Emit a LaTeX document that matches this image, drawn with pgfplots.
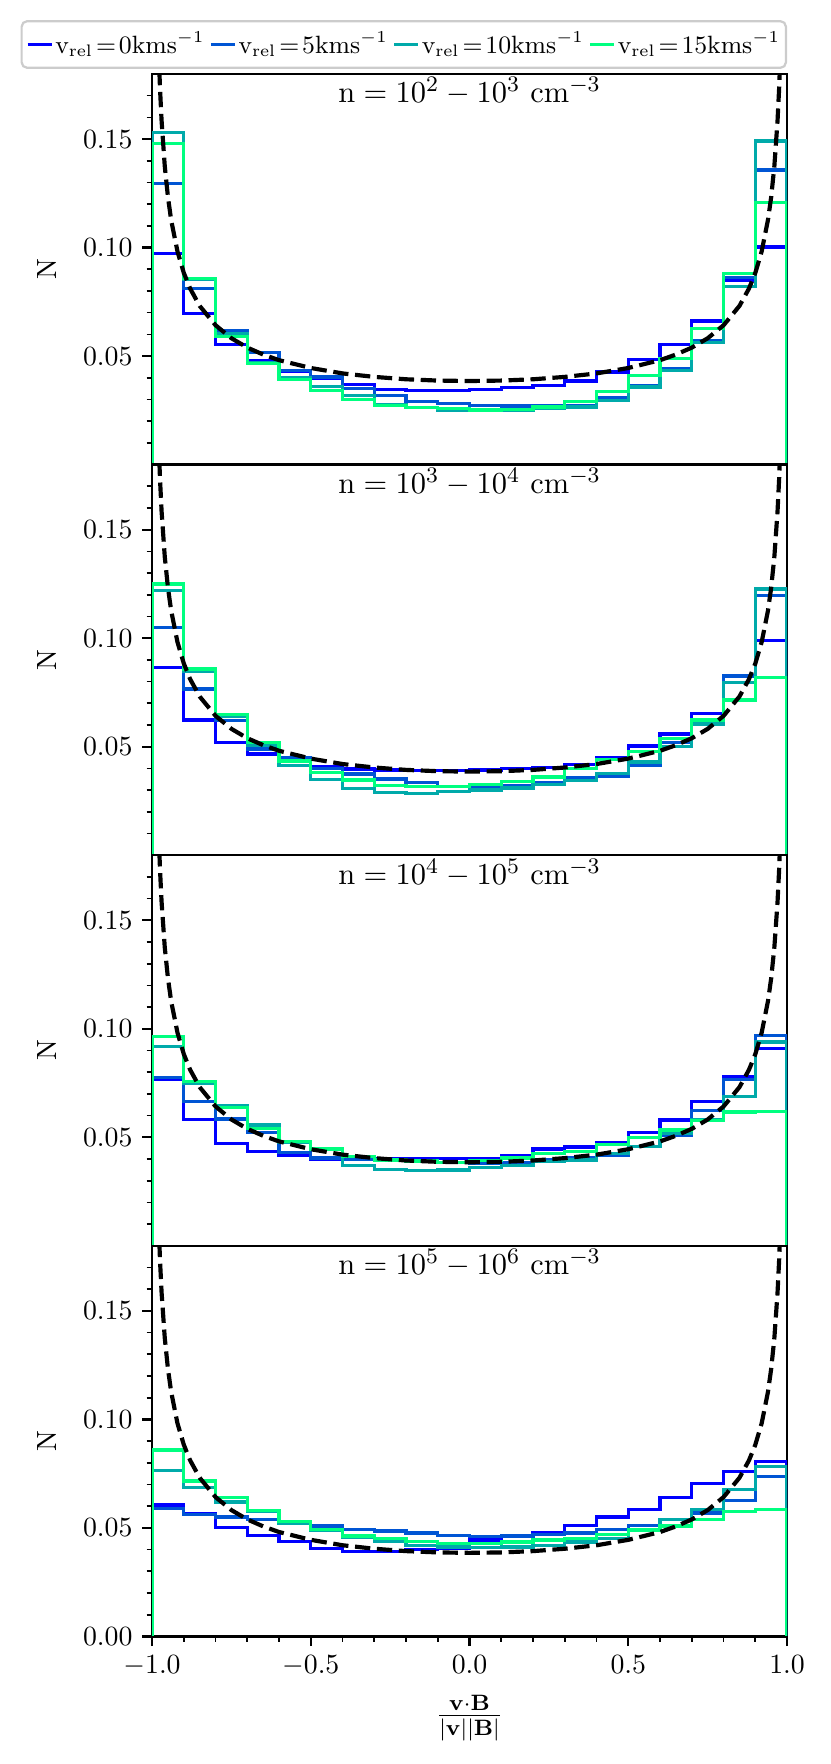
\documentclass[border=0pt]{standalone}
\usepackage{pgfplots}
\pgfplotsset{compat=1.18}
\usepackage{pgfplotstable}

\definecolor{cA}{RGB}{0,0,255}
\definecolor{cB}{RGB}{0,85,212}
\definecolor{cC}{RGB}{0,170,170}
\definecolor{cD}{RGB}{0,255,128}
\definecolor{legedge}{RGB}{204,204,204}

% columns: bin left edge, v=0, v=5, v=10, v=15 (step outlines closed down to zero at both ends)
\pgfplotstableread{
x     a      b      c      d
-1.0  0      0      0      0
-1.0  .0973  .1296  .1530  .1480
-0.9  .0696  .0811  .0855  .0857
-0.8  .0554  .0619  .0605  .0591
-0.7  .0480  .0516  .0470  .0465
-0.6  .0430  .0434  .0400  .0391
-0.5  .0396  .0403  .0360  .0342
-0.4  .0369  .0349  .0318  .0299
-0.3  .0345  .0319  .0275  .0272
-0.2  .0342  .0292  .0262  .0262
-0.1  .0342  .0280  .0250  .0257
0.0   .0345  .0272  .0248  .0252
0.1   .0354  .0270  .0249  .0255
0.2   .0365  .0272  .0257  .0265
0.3   .0385  .0272  .0265  .0290
0.4   .0426  .0310  .0295  .0336
0.5   .0485  .0365  .0357  .0410
0.6   .0554  .0440  .0434  .0490
0.7   .0662  .0572  .0562  .0626
0.8   .0850  .0862  .0820  .0880
0.9   .1003  .1357  .1491  .1207
1.0   .1003  .1357  .1491  .1207
1.0   0      0      0      0
}\tabA

\pgfplotstableread{
x     a      b      c      d
-1.0  0      0      0      0
-1.0  .0866  .1049  .1220  .1249
-0.9  .0623  .0766  .0846  .0858
-0.8  .0518  .0620  .0640  .0649
-0.7  .0466  .0490  .0505  .0518
-0.6  .0440  .0451  .0412  .0434
-0.5  .0408  .0400  .0349  .0382
-0.4  .0397  .0374  .0308  .0346
-0.3  .0392  .0351  .0289  .0320
-0.2  .0389  .0334  .0285  .0318
-0.1  .0389  .0318  .0292  .0318
0.0   .0392  .0311  .0300  .0325
0.1   .0398  .0320  .0310  .0340
0.2   .0405  .0334  .0325  .0360
0.3   .0418  .0358  .0345  .0400
0.4   .0448  .0362  .0377  .0440
0.5   .0503  .0412  .0430  .0477
0.6   .0558  .0520  .0500  .0538
0.7   .0654  .0615  .0605  .0623
0.8   .0825  .0826  .0795  .0715
0.9   .0989  .1197  .1226  .0820
1.0   .0989  .1197  .1226  .0820
1.0   0      0      0      0
}\tabB

\pgfplotstableread{
x     a      b      c      d
-1.0  0      0      0      0
-1.0  .0768  .0776  .0919  .0965
-0.9  .0583  .0665  .0750  .0757
-0.8  .0472  .0585  .0645  .0637
-0.7  .0434  .0523  .0557  .0539
-0.6  .0416  .0430  .0475  .0480
-0.5  .0399  .0405  .0446  .0446
-0.4  .0403  .0400  .0369  .0411
-0.3  .0403  .0396  .0352  .0396
-0.2  .0400  .0392  .0346  .0390
-0.1  .0403  .0385  .0349  .0385
0.0   .0403  .0380  .0360  .0392
0.1   .0416  .0385  .0369  .0405
0.2   .0446  .0395  .0388  .0426
0.3   .0456  .0405  .0395  .0434
0.4   .0477  .0419  .0426  .0468
0.5   .0523  .0457  .0459  .0499
0.6   .0580  .0510  .0520  .0534
0.7   .0665  .0623  .0580  .0576
0.8   .0780  .0765  .0688  .0616
0.9   .0908  .0970  .0939  .0619
1.0   .0908  .0970  .0939  .0619
1.0   0      0      0      0
}\tabC

\pgfplotstableread{
x     a      b      c      d
-1.0  0      0      0      0
-1.0  .0605  .0589  .0763  .0859
-0.9  .0565  .0563  .0685  .0716
-0.8  .0502  .0551  .0620  .0639
-0.7  .0466  .0540  .0575  .0579
-0.6  .0436  .0531  .0520  .0528
-0.5  .0405  .0508  .0490  .0494
-0.4  .0392  .0492  .0456  .0463
-0.3  .0392  .0486  .0436  .0451
-0.2  .0400  .0477  .0420  .0436
-0.1  .0405  .0466  .0412  .0428
0.0   .0445  .0459  .0410  .0428
0.1   .0460  .0462  .0412  .0435
0.2   .0477  .0470  .0420  .0445
0.3   .0512  .0477  .0435  .0452
0.4   .0551  .0492  .0450  .0470
0.5   .0585  .0512  .0490  .0490
0.6   .0640  .0538  .0540  .0508
0.7   .0705  .0569  .0585  .0539
0.8   .0759  .0625  .0677  .0575
0.9   .0805  .0736  .0782  .0585
1.0   .0805  .0736  .0782  .0585
1.0   0      0      0      0
}\tabD

% dashed reference curve
\pgfplotstableread{
x      y
-0.99  .2729
-0.985 .2231
-0.98  .1935
-0.975 .1733
-0.97  .1584
-0.96  .1375
-0.95  .1233
-0.94  .1128
-0.92  .0982
-0.90  .0883
-0.88  .0811
-0.85  .0731
-0.80  .0642
-0.75  .0582
-0.70  .0539
-0.65  .0507
-0.60  .0481
-0.50  .0445
-0.40  .0420
-0.30  .0404
-0.20  .0393
-0.10  .0387
0.00   .0385
0.10   .0387
0.20   .0393
0.30   .0404
0.40   .0420
0.50   .0445
0.60   .0481
0.65   .0507
0.70   .0539
0.75   .0582
0.80   .0642
0.85   .0731
0.88   .0811
0.90   .0883
0.92   .0982
0.94   .1128
0.95   .1233
0.96   .1375
0.97   .1584
0.975  .1733
0.98   .1935
0.985  .2231
0.99   .2729
}\tabT

\pgfplotsset{
  panel/.style={
    scale only axis, width=228.4pt, height=140.5pt,
    anchor=north west,
    xmin=-1, xmax=1, ymin=0, ymax=0.18,
    axis line style={line width=0.8pt},
    tick align=outside,
    xtick pos=left, ytick pos=left,
    major tick length=3.5pt, minor tick length=2pt,
    every major tick/.append style={line width=0.8pt, black},
    every minor tick/.append style={line width=0.6pt, black},
    ytick={0.05,0.10,0.15},
    minor ytick={0.01,0.02,0.03,0.04,0.06,0.07,0.08,0.09,0.11,0.12,0.13,0.14,0.16,0.17},
    scaled y ticks=false,
    yticklabel style={/pgf/number format/.cd, fixed, fixed zerofill, precision=2},
    xtick=\empty,
    every axis y label/.style={at={(rel axis cs:0,0.5)}, xshift=-34.2pt, rotate=90, anchor=base},
    ylabel={N},
    clip=true,
  },
  hist/.style={const plot, line width=1.2pt, mark=none, line join=miter},
  theory/.style={black, line width=1.5pt, dash pattern=on 5.5pt off 2.4pt, mark=none},
}

\newcommand{\paneltitle}[2]{\node[anchor=base, font=\fontsize{10.9}{13}\selectfont] at (rel axis cs:0.5,1) [yshift=-10.4pt] {$\mathrm{n}=10^{#1}-10^{#2}~\mathrm{cm}^{-3}$};}

\begin{document}
\begin{tikzpicture}
\useasboundingbox (-54.7pt,26.6pt) rectangle (244.2pt,-607.9pt);

\begin{axis}[panel, at={(0,0)},
  legend columns=4,
  legend image code/.code={\draw[#1, line width=1.4pt] (0pt,0pt) -- (8.6pt,0pt);},
  legend style={at={(rel axis cs:1,1)}, anchor=south east, yshift=1.8pt,
    font=\fontsize{8.55}{10}\selectfont,
    draw=legedge, line width=0.8pt, rounded corners=2pt,
    inner xsep=1.5pt, inner ysep=1.8pt,
    /tikz/every even column/.append style={column sep=1pt},
    nodes={inner xsep=0.6pt}},
]
\addplot[hist, cA] table[x=x, y=a] {\tabA};
\addlegendentry{$\mathrm{v_{rel}\!=\!0kms^{-1}}$}
\addplot[hist, cB] table[x=x, y=b] {\tabA};
\addlegendentry{$\mathrm{v_{rel}\!=\!5kms^{-1}}$}
\addplot[hist, cC] table[x=x, y=c] {\tabA};
\addlegendentry{$\mathrm{v_{rel}\!=\!10kms^{-1}}$}
\addplot[hist, cD] table[x=x, y=d] {\tabA};
\addlegendentry{$\mathrm{v_{rel}\!=\!15kms^{-1}}$}
\addplot[theory, forget plot] table[x=x, y=y] {\tabT};
\paneltitle{2}{3}
\end{axis}

\begin{axis}[panel, at={(0,-140.5pt)}]
\addplot[hist, cA] table[x=x, y=a] {\tabB};
\addplot[hist, cB] table[x=x, y=b] {\tabB};
\addplot[hist, cC] table[x=x, y=c] {\tabB};
\addplot[hist, cD] table[x=x, y=d] {\tabB};
\addplot[theory] table[x=x, y=y] {\tabT};
\paneltitle{3}{4}
\end{axis}

\begin{axis}[panel, at={(0,-281pt)}]
\addplot[hist, cA] table[x=x, y=a] {\tabC};
\addplot[hist, cB] table[x=x, y=b] {\tabC};
\addplot[hist, cC] table[x=x, y=c] {\tabC};
\addplot[hist, cD] table[x=x, y=d] {\tabC};
\addplot[theory] table[x=x, y=y] {\tabT};
\paneltitle{4}{5}
\end{axis}

\begin{axis}[panel, at={(0,-421.5pt)},
  ytick={0,0.05,0.10,0.15},
  xtick={-1,-0.5,0,0.5,1},
  minor xtick={-0.9,-0.8,-0.7,-0.6,-0.4,-0.3,-0.2,-0.1,0.1,0.2,0.3,0.4,0.6,0.7,0.8,0.9},
  xticklabel style={/pgf/number format/.cd, fixed, fixed zerofill, precision=1},
  every axis x label/.style={at={(rel axis cs:0.5,0)}, yshift=-29.5pt, anchor=center, font=\fontsize{12}{14}\selectfont},
  xlabel={$\frac{\mathbf{v}\cdot\mathbf{B}}{|\mathbf{v}||\mathbf{B}|}$},
]
\addplot[hist, cA] table[x=x, y=a] {\tabD};
\addplot[hist, cB] table[x=x, y=b] {\tabD};
\addplot[hist, cC] table[x=x, y=c] {\tabD};
\addplot[hist, cD] table[x=x, y=d] {\tabD};
\addplot[theory] table[x=x, y=y] {\tabT};
\paneltitle{5}{6}
\end{axis}
\end{tikzpicture}
\end{document}
